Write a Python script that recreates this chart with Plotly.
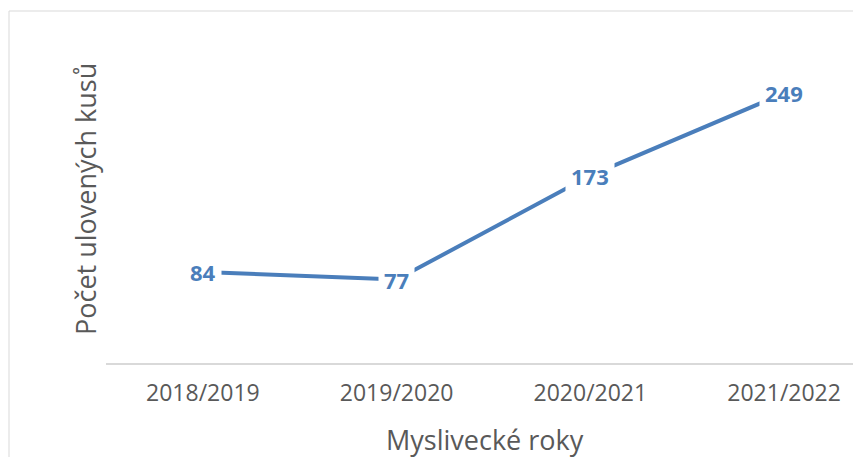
import plotly.graph_objects as go

seasons = ["2018/2019", "2019/2020", "2020/2021", "2021/2022"]
counts = [84, 77, 173, 249]
x_title = "Myslivecké roky"
y_title = "Počet ulovených kusů"

W, H = 861, 457
OFF = 8  # page body offset
ml, mr, mt, mb = 106 - OFF, 0, 38 - OFF, 94 + OFF
pw = W - ml - mr
ph = H - mt - mb

line_color = "#4a7ebb"
text_gray = "#595959"

fig = go.Figure()
fig.add_trace(go.Scatter(
    x=seasons, y=counts, mode="lines",
    line=dict(color=line_color, width=4),
    hoverinfo="skip", showlegend=False,
))

for s, c in zip(seasons, counts):
    fig.add_annotation(
        x=s, y=c, xref="x", yref="y", text=f"<b>{c}</b>", showarrow=False,
        font=dict(family="Open Sans", size=22, color=line_color),
        bgcolor="white", borderpad=5, xanchor="center", yanchor="middle",
    )

def px_x(p):
    return (p - OFF - ml) / pw

def px_y(p):
    return (H - mb - (p - OFF)) / ph

fig.add_annotation(
    x=px_x(85), y=px_y(199), xref="paper", yref="paper", text=y_title,
    textangle=-90, showarrow=False, xanchor="center", yanchor="middle",
    font=dict(family="Open Sans", size=27, color=text_gray),
)
fig.add_annotation(
    x=px_x(485), y=px_y(439), xref="paper", yref="paper", text=x_title,
    showarrow=False, xanchor="center", yanchor="middle",
    font=dict(family="Open Sans", size=27, color=text_gray),
)

fig.add_shape(
    type="rect", xref="paper", yref="paper",
    x0=px_x(9), x1=px_x(W + 60), y0=px_y(H + 60), y1=px_y(11),
    line=dict(color="#d9d9d9", width=1), fillcolor="rgba(0,0,0,0)", layer="below",
)

fig.update_layout(
    width=W, height=H,
    margin=dict(l=ml, r=mr, t=mt, b=mb),
    paper_bgcolor="white", plot_bgcolor="white",
    font=dict(family="Open Sans", color=text_gray),
    xaxis=dict(
        type="category", range=[-0.5, 3 + (W - 777) / 191.7],
        showgrid=False, zeroline=False, showline=True,
        linecolor="#d9d9d9", linewidth=2, ticks="",
        tickfont=dict(family="Open Sans", size=23, color=text_gray),
        ticklabelstandoff=8,
    ),
    yaxis=dict(
        range=[0, 300], showgrid=False, zeroline=False, showline=False,
        showticklabels=False, ticks="",
    ),
)

fig.write_html("out.html")
